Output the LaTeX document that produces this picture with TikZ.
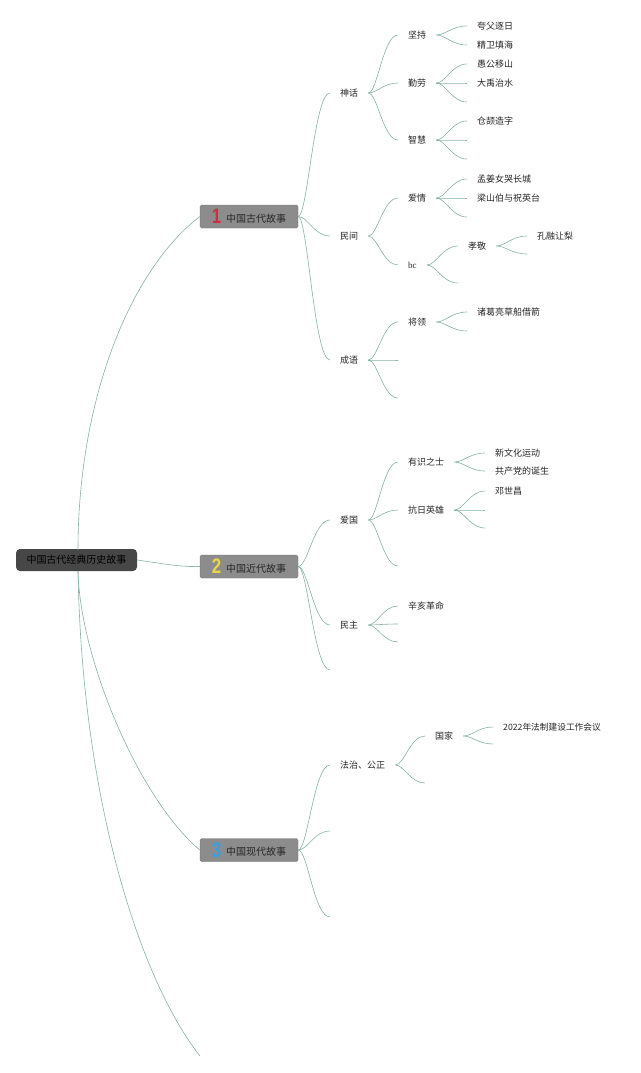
\documentclass[tikz,border=0pt]{standalone}
\usepackage{fontspec}
\setmainfont{Liberation Serif}
\newfontfamily\cjk{Noto Sans CJK SC}
\newfontfamily\numfont{Liberation Sans}
\usetikzlibrary{calc}
\definecolor{edgec}{HTML}{86B3A3}
\definecolor{txt}{HTML}{262626}
\definecolor{rootfill}{HTML}{474747}
\definecolor{brfill}{HTML}{8C8C8C}
\definecolor{num1}{HTML}{D42A45}
\definecolor{num2}{HTML}{EDD645}
\definecolor{num3}{HTML}{3A9FE0}
\tikzset{
  edge/.style={draw=edgec, line width=0.6pt},
  tnode/.style={anchor=west, inner xsep=10pt, inner ysep=0pt, text height=7.6pt, text depth=1.2pt, font=\cjk\fontsize{9}{10}\selectfont, text=txt},
  rootnode/.style={fill=rootfill, rounded corners=4pt, minimum width=121pt, minimum height=22pt, inner sep=0pt, font=\cjk\fontsize{10}{11}\selectfont, text=black},
  brnode/.style={fill=brfill, draw=brfill!80!black, line width=0.3pt, rounded corners=1.5pt, minimum width=98pt, minimum height=23pt, inner sep=0pt, font=\cjk\fontsize{10}{11}\selectfont, text=txt},
}
\newcommand\link[2]{\draw[edge] let \p1=(#1), \p2=(#2) in (\p1) .. controls ({0.7*\x1+0.3*\x2},\y1) and ({0.5*\x1+0.5*\x2},\y2) .. (\p2);}
\newcommand\bignum[2]{\raisebox{-1.5pt}{\numfont\bfseries\fontsize{21}{21}\selectfont\color{#1}\scalebox{0.8}[1]{#2}}}
\begin{document}
\begin{tikzpicture}[x=1pt,y=-1pt]
\useasboundingbox (0,0) rectangle (640,1073);
\fill[white] (0,0) rectangle (640,1073);

% root and branches
\node[rootnode] (root) at (76.5,560) {中国古代经典历史故事};
\node[brnode] (b1) at (249,216.5) {\bignum{num1}{1}\hspace{5pt}中国古代故事};
\node[brnode] (b2) at (249,566.5) {\bignum{num2}{2}\hspace{5pt}中国近代故事};
\node[brnode] (b3) at (249,850) {\bignum{num3}{3}\hspace{5pt}中国现代故事};
\coordinate (b4) at (200,1056);

\draw[edge] (78,550) .. controls (78,400) and (130,270) .. (b1.west);
\draw[edge] (root.east) .. controls (165,564) and (180,567) .. (b2.west);
\draw[edge] (78,571) .. controls (80,660) and (140,800) .. (b3.west);
\draw[edge] (78,571) .. controls (82,800) and (140,980) .. (b4);

% ---------- branch 1 ----------
\node[tnode] (shenhua) at (330,93) {神话};
\node[tnode] (minjian) at (330,236) {民间};
\node[tnode] (chengyu) at (330,360) {成语};
\link{b1.east}{shenhua.west}
\link{b1.east}{minjian.west}
\link{b1.east}{chengyu.west}

\node[tnode] (jianchi) at (398,35) {坚持};
\node[tnode] (qinlao) at (398,83) {勤劳};
\node[tnode] (zhihui) at (398,140) {智慧};
\link{shenhua.east}{jianchi.west}
\link{shenhua.east}{qinlao.west}
\link{shenhua.east}{zhihui.west}

\node[tnode] (kuafu) at (467,26) {夸父逐日};
\node[tnode] (jingwei) at (467,45) {精卫填海};
\link{jianchi.east}{kuafu.west}
\link{jianchi.east}{jingwei.west}

\node[tnode] (yugong) at (467,64) {愚公移山};
\node[tnode] (dayu) at (467,83) {大禹治水};
\coordinate (qe1) at (467,102);
\link{qinlao.east}{yugong.west}
\link{qinlao.east}{dayu.west}
\link{qinlao.east}{qe1}

\node[tnode] (cangjie) at (467,121) {仓颉造字};
\coordinate (ze1) at (467,140);
\coordinate (ze2) at (467,159);
\link{zhihui.east}{cangjie.west}
\link{zhihui.east}{ze1}
\link{zhihui.east}{ze2}

\node[tnode] (aiqing) at (398,198) {爱情};
\node[tnode, font=\rmfamily\fontsize{9}{10}\selectfont] (bc) at (398,265) {bc};
\link{minjian.east}{aiqing.west}
\link{minjian.east}{bc.west}

\node[tnode] (mengjiang) at (467,179) {孟姜女哭长城};
\node[tnode] (liangshan) at (467,198) {梁山伯与祝英台};
\coordinate (ae1) at (467,217);
\link{aiqing.east}{mengjiang.west}
\link{aiqing.east}{liangshan.west}
\link{aiqing.east}{ae1}

\node[tnode] (xiaojing) at (458,246) {孝敬};
\coordinate (bce1) at (458,283);
\link{bc.east}{xiaojing.west}
\link{bc.east}{bce1}

\node[tnode] (kongrong) at (527,236) {孔融让梨};
\coordinate (xe1) at (527,254);
\link{xiaojing.east}{kongrong.west}
\link{xiaojing.east}{xe1}

\node[tnode] (jiangling) at (398,322) {将领};
\coordinate (ce1) at (398,360);
\coordinate (ce2) at (398,398);
\link{chengyu.east}{jiangling.west}
\link{chengyu.east}{ce1}
\link{chengyu.east}{ce2}

\node[tnode] (zhuge) at (467,312) {诸葛亮草船借箭};
\coordinate (je1) at (467,331);
\link{jiangling.east}{zhuge.west}
\link{jiangling.east}{je1}

% ---------- branch 2 ----------
\node[tnode] (aiguo) at (330,520) {爱国};
\node[tnode] (minzhu) at (330,625) {民主};
\coordinate (b2e1) at (330,670);
\link{b2.east}{aiguo.west}
\link{b2.east}{minzhu.west}
\link{b2.east}{b2e1}

\node[tnode] (youshi) at (398,462) {有识之士};
\node[tnode] (kangri) at (398,510) {抗日英雄};
\coordinate (age1) at (398,566);
\link{aiguo.east}{youshi.west}
\link{aiguo.east}{kangri.west}
\link{aiguo.east}{age1}

\node[tnode] (xinwenhua) at (485,453) {新文化运动};
\node[tnode] (gongchan) at (485,471) {共产党的诞生};
\link{youshi.east}{xinwenhua.west}
\link{youshi.east}{gongchan.west}

\node[tnode] (deng) at (485,491) {邓世昌};
\coordinate (ke1) at (485,510);
\coordinate (ke2) at (485,528);
\link{kangri.east}{deng.west}
\link{kangri.east}{ke1}
\link{kangri.east}{ke2}

\node[tnode] (xinhai) at (398,606) {辛亥革命};
\coordinate (me1) at (398,624);
\coordinate (me2) at (398,642);
\link{minzhu.east}{xinhai.west}
\link{minzhu.east}{me1}
\link{minzhu.east}{me2}

% ---------- branch 3 ----------
\node[tnode] (fazhi) at (330,765) {法治、公正};
\coordinate (b3e1) at (330,831);
\coordinate (b3e2) at (330,917);
\link{b3.east}{fazhi.west}
\link{b3.east}{b3e1}
\link{b3.east}{b3e2}

\node[tnode] (guojia) at (425,736) {国家};
\coordinate (fe1) at (425,783);
\link{fazhi.east}{guojia.west}
\link{fazhi.east}{fe1}

\node[tnode, font=\cjk\fontsize{8.7}{10}\selectfont] (huiyi) at (493,727) {2022年法制建设工作会议};
\coordinate (ge1) at (493,744);
\link{guojia.east}{huiyi.west}
\link{guojia.east}{ge1}
\end{tikzpicture}
\end{document}
